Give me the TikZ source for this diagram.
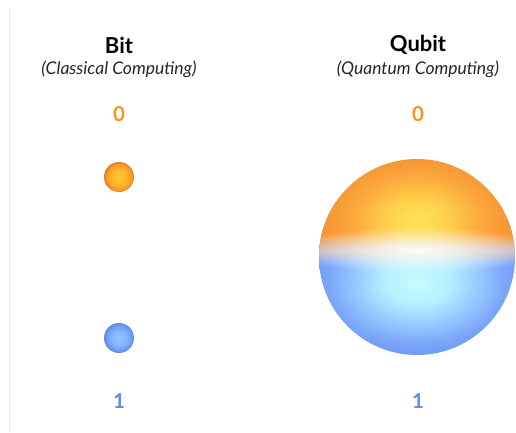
\documentclass[tikz,border=0pt]{standalone}
\usepackage{fontspec}
\setmainfont{Lato}
\usetikzlibrary{fadings}

\definecolor{zeroOrange}{HTML}{F7941D}
\definecolor{oneBlue}{HTML}{5E8AEB}

% glow of the two halves of the qubit sphere
\pgfdeclareradialshading{topglow}{\pgfpoint{0bp}{0bp}}{%
  color(0bp)=(rgb,255:red,255;green,228;blue,90);
  color(7bp)=(rgb,255:red,255;green,208;blue,74);
  color(15bp)=(rgb,255:red,251;green,166;blue,60);
  color(25bp)=(rgb,255:red,242;green,138;blue,46);
  color(50bp)=(rgb,255:red,242;green,138;blue,46)}
\pgfdeclareradialshading{bottomglow}{\pgfpoint{0bp}{0bp}}{%
  color(0bp)=(rgb,255:red,196;green,252;blue,255);
  color(7bp)=(rgb,255:red,180;green,240;blue,255);
  color(13bp)=(rgb,255:red,152;green,204;blue,255);
  color(19bp)=(rgb,255:red,124;green,168;blue,250);
  color(25bp)=(rgb,255:red,102;green,144;blue,242);
  color(50bp)=(rgb,255:red,102;green,144;blue,242)}
% small beads
\pgfdeclareradialshading{orangebead}{\pgfpoint{0bp}{0bp}}{%
  color(0bp)=(rgb,255:red,255;green,198;blue,44);
  color(13bp)=(rgb,255:red,255;green,181;blue,42);
  color(21bp)=(rgb,255:red,249;green,154;blue,36);
  color(25bp)=(rgb,255:red,222;green,124;blue,38);
  color(50bp)=(rgb,255:red,222;green,124;blue,38)}
\pgfdeclareradialshading{bluebead}{\pgfpoint{0bp}{0bp}}{%
  color(0bp)=(rgb,255:red,146;green,194;blue,255);
  color(13bp)=(rgb,255:red,130;green,180;blue,255);
  color(21bp)=(rgb,255:red,108;green,156;blue,242);
  color(25bp)=(rgb,255:red,92;green,136;blue,226);
  color(50bp)=(rgb,255:red,92;green,136;blue,226)}

% opaque above the seam, soft ramp across it
\begin{tikzfadingfrompicture}[name=tophalf, x=1pt, y=1pt]
  \path (-160,-110) rectangle (160,110);
  \fill[transparent!0] (-160,110) rectangle (160,12);
  \shade[top color=transparent!0, bottom color=transparent!100]
    (-160,12) rectangle (160,-12);
\end{tikzfadingfrompicture}
\tikzfading[name=bandfade, top color=transparent!100,
  bottom color=transparent!100, middle color=transparent!0]
\tikzfading[name=glowfade, inner color=transparent!0, outer color=transparent!100]

\begin{document}
\begin{tikzpicture}[x=1pt, y=-1pt, line join=round, line cap=round,
    title/.style={font=\fontsize{22}{24}\selectfont\bfseries},
    subtitle/.style={font=\fontsize{17.5}{20}\selectfont\itshape, text=black!85},
    digit/.style={font=\fontsize{20.5}{24}\selectfont\bfseries},
    bead/.style={circle, minimum size=30pt, inner sep=0pt, shade}]
  \useasboundingbox (0,0) rectangle (516,432);
  \draw[black!8, line width=0.8pt] (9.5,9) -- (9.5,432);

  % classical bit
  \node[title] (bitTitle) at (119,45) {Bit};
  \node[subtitle] (bitNote) at (119,69) {(Classical Computing)};
  \node[digit, text=zeroOrange] (bitZero) at (119,114.5) {0};
  \node[bead, shading=orangebead] (zeroBead) at (119,177) {};
  \node[bead, shading=bluebead] (oneBead) at (119,338) {};
  \node[digit, text=oneBlue] (bitOne) at (119,401.5) {1};

  % qubit
  \node[title] (qubitTitle) at (418,45) {Qubit};
  \node[subtitle] (qubitNote) at (418,69) {(Quantum Computing)};
  \node[digit, text=zeroOrange] (qubitZero) at (418,114.5) {0};
  \node[digit, text=oneBlue] (qubitOne) at (418,401.5) {1};

  \coordinate (sphere) at (417,257);
  \begin{scope}
    \clip (sphere) circle (98);
    % blue half underneath, orange half fading into it
    \shade[shading=bottomglow] (302,202) rectangle (532,362);
    \shade[shading=topglow, path fading=tophalf, fit fading=false,
      fading transform={shift={(417,250)}}]
      (307,145) rectangle (527,295);
    % white seam
    \fill[white, opacity=0.9, path fading=glowfade] (300,225) rectangle (534,275);
    \fill[white, opacity=0.35, path fading=bandfade] (310,232) rectangle (525,268);
  \end{scope}
\end{tikzpicture}
\end{document}
